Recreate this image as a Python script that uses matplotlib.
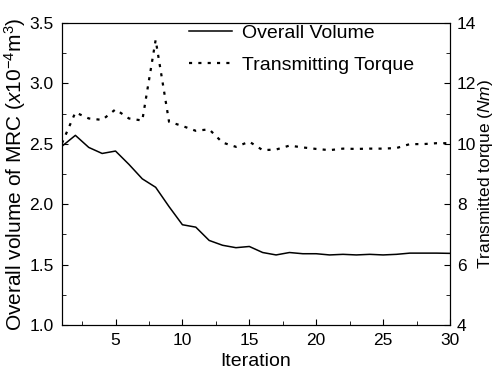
import matplotlib
matplotlib.use("Agg")
import matplotlib.pyplot as plt
from matplotlib.ticker import MultipleLocator, FormatStrFormatter

plt.rcParams['font.family'] = ['Liberation Sans', 'DejaVu Sans']
plt.rcParams['mathtext.fontset'] = 'custom'
plt.rcParams['mathtext.rm'] = 'Liberation Sans'
plt.rcParams['mathtext.it'] = 'Liberation Sans:italic'

iterations = list(range(1, 31))
volume = [2.48, 2.57, 2.47, 2.42, 2.44, 2.33, 2.21, 2.14, 1.98, 1.83,
          1.81, 1.70, 1.66, 1.64, 1.65, 1.60, 1.58, 1.60, 1.59, 1.59,
          1.58, 1.585, 1.58, 1.585, 1.58, 1.585, 1.595, 1.595, 1.595, 1.593]
torque = [10.02, 11.04, 10.84, 10.79, 11.14, 10.84, 10.77, 13.44, 10.73, 10.59,
          10.43, 10.48, 10.04, 9.90, 10.07, 9.79, 9.81, 9.94, 9.88, 9.83,
          9.79, 9.84, 9.83, 9.84, 9.84, 9.86, 9.99, 9.99, 10.02, 10.02]

fig, ax = plt.subplots(figsize=(4.97, 3.8), dpi=100)
fig.subplots_adjust(left=62/497, right=450/497, top=1 - 23/380, bottom=1 - 325/380)
ax2 = ax.twinx()

l1, = ax.plot(iterations, volume, color='black', lw=1.1)
l2, = ax2.plot(iterations, torque, color='black', lw=1.6, linestyle=(0, (1.4, 2.8)))

ax.set_xlim(1, 30)
ax.set_ylim(1.0, 3.5)
ax2.set_ylim(4, 14)
ax.xaxis.set_major_locator(MultipleLocator(5))
ax.xaxis.set_minor_locator(MultipleLocator(2.5))
ax.yaxis.set_major_locator(MultipleLocator(0.5))
ax.yaxis.set_minor_locator(MultipleLocator(0.25))
ax2.yaxis.set_major_locator(MultipleLocator(2))
ax2.yaxis.set_minor_locator(MultipleLocator(1))
ax.yaxis.set_major_formatter(FormatStrFormatter('%.1f'))

for a in (ax, ax2):
    a.tick_params(which='both', direction='in', labelsize=12.5, pad=6)
    a.tick_params(which='major', length=4.5)
    a.tick_params(which='minor', length=3)
ax.tick_params(which='both', top=False, right=False)
ax2.tick_params(pad=5)

ax.set_xlabel('Iteration', fontsize=14, labelpad=3)
ax.set_ylabel(r'Overall volume of MRC ($\it{x10}^{-4}$m$^{3}$)', fontsize=15, labelpad=1)
ax2.set_ylabel(r'Transmitted torque ($\it{Nm}$)', fontsize=12.5, labelpad=0)

ax.legend([l1, l2], ['Overall Volume', 'Transmitting Torque'], loc='upper left',
          bbox_to_anchor=(189/497, 1 - 24/380), bbox_transform=fig.transFigure,
          frameon=False, fontsize=14, handlelength=2.2, handletextpad=0.55,
          borderpad=0, borderaxespad=0, labelspacing=0.75)

plt.savefig("out.png", dpi=100)
plt.close()
